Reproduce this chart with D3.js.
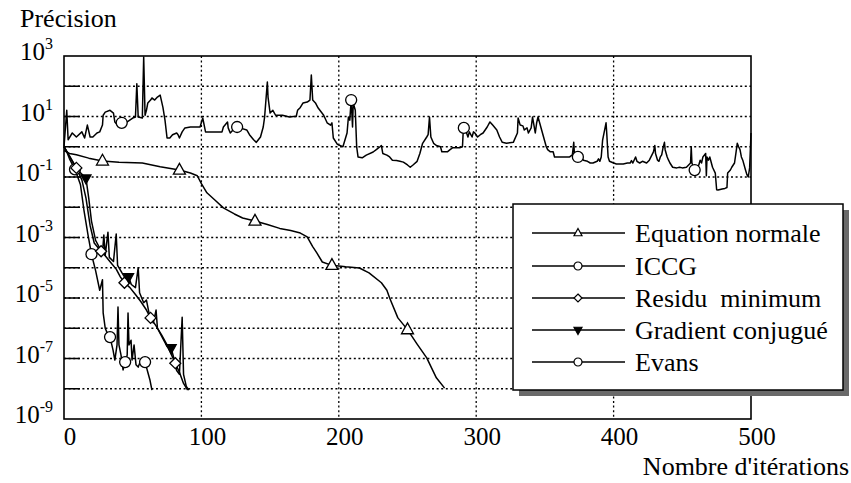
<!DOCTYPE html>
<html lang="fr"><head><meta charset="utf-8">
<script src="https://cdn.jsdelivr.net/npm/d3@7"></script>
</head><body style="margin:0">
<svg id="chart" width="851" height="483"></svg>
<script>
// ---------- data ----------
const xTickValues = [0, 100, 200, 300, 400, 500];
const yTickExponents = [3, 1, -1, -3, -5, -7, -9];
const seriesNames = ["Equation normale", "ICCG", "Residu\u00a0 minimum", "Gradient conjugué", "Evans"];
const xTitle = "Nombre d'itérations";
const yTitle = "Précision";

// [iteration, precision]
const equationNormale = [[0,0.75],[4,0.6],[9,0.54],[18,0.42],[28,0.34],[40,0.31],[57,0.29],[70,0.22],[84,0.17],[92,0.135],[97,0.11],[100,0.06],[104,0.03],[110,0.017],[116,0.0095],[124,0.006],[130,0.0044],[139,0.0035],[148,0.0027],[157,0.002],[165,0.0017],[172,0.0014],[177,0.00105],[181,0.0005],[184,0.00031],[188,0.000155],[195,0.00012],[205,0.000107],[215,0.000098],[222,0.000068],[231,0.000032],[235,0.000018],[237,0.00001],[243,2.2e-6],[250,9e-7],[257,3e-7],[264,1.05e-7],[271,2.3e-8],[277,1.05e-8]];
const iccg = [[0,1.0],[2,0.68],[4,0.4],[8,0.18],[10,0.1],[12,0.055],[14.5,0.0081],[17.5,0.0012],[20,0.00028],[23,0.00008],[26,0.000018],[28,0.00004],[28.5,3.2e-6],[30,1e-6],[31.5,6.9e-7],[33.5,5.1e-7],[35.7,1.9e-7],[37,8.9e-8],[38.6,2.8e-7],[39.3,5e-6],[40,2.8e-7],[41.5,1.3e-7],[43,4.2e-8],[44.5,7.6e-8],[46,1.3e-7],[46.6,3.2e-6],[47.3,2.8e-7],[48.8,4e-7],[49.5,8.9e-8],[51,2.8e-7],[52.4,6.2e-8],[54,5.2e-8],[56,8.9e-8],[57.5,1e-7],[59,7.6e-8],[61,3.5e-8],[62.6,1.9e-8],[64,9e-9]];
const residuMinimum = [[0,1.0],[4,0.5],[9,0.2],[13,0.08],[16,0.02],[19,0.0025],[22,0.00066],[25,0.00045],[27,0.00035],[30,0.00025],[34,0.00015],[38,0.00009],[41,0.00005],[44,0.000032],[48,0.000022],[52,0.000013],[56,0.0000075],[60,0.000004],[63,2.2e-6],[67,1.2e-6],[71,6e-7],[75,2.8e-7],[78,1.4e-7],[81,7e-8],[84,3.5e-8],[87,1.5e-8],[90,9e-9]];
const gradientConjugue = [[0,1.0],[5,0.4],[10,0.17],[16,0.09],[18,0.02],[20,0.0035],[23,0.0008],[26,0.00045],[28,0.00032],[29,0.0012],[30,0.00026],[32,0.0015],[33,0.00022],[36,0.00016],[38,0.0013],[39,0.00012],[42,0.00007],[44,0.00005],[47,0.000049],[49,0.000028],[52,0.000022],[54,0.0001],[55,0.000015],[58,0.000007],[60,0.0000085],[62,0.000003],[65,1.5e-6],[67,4e-6],[68,1e-6],[72,4.5e-7],[75,2.5e-7],[78,2.2e-7],[80,1e-7],[82,4e-8],[84,3e-8],[86,2.3e-6],[87,3e-8],[89,1.2e-8],[91,9e-9]];
const evans = [[0,1.0],[2,16],[3,1.7],[6,2.85],[9,2.1],[13,3.1],[15,1.95],[17,5.2],[19,2.1],[21,2.1],[24,2.85],[26,3.1],[28,5.2],[28.5,11],[30,14],[33.5,16],[36,13],[37,6.6],[39,5.2],[42,6.2],[46,6.6],[50,8.9],[52,9.6],[53,120],[54,9.6],[57,8.9],[58,930],[59,11],[60,16],[61,28],[63,35],[64,41],[66,35],[68,44],[70,51],[72,20],[73.5,7.6],[75,1.95],[77,1.95],[79,2.5],[82,2.85],[83,2.5],[84,1.95],[86,3.1],[88,4.2],[92,4.5],[99,4.5],[101,8.9],[103,3.1],[108,3.1],[115,3.1],[116,4.5],[119,6.6],[119.5,4.2],[121,2.85],[123,3.6],[126,4.5],[128,4.2],[133,3.6],[135,2.5],[138,1.7],[140,1.4],[143,2.1],[145,4.5],[146,9.6],[148,138],[148.5,44],[150,13],[152,16],[154,11],[159,11],[164,9.6],[167,10],[169,10],[170,16],[172,20],[174,28],[177,30],[179,35],[180,236],[181,35],[183,28],[185,19],[189,11],[191.5,6.2],[194,5.2],[195,6.2],[196,1.95],[199,1.2],[203,1.0],[206,2.85],[207,9.6],[208,7.6],[209,35],[210,4.5],[210.5,28],[212,16],[213,1.0],[214,0.46],[217,0.43],[220,0.53],[225,0.67],[228,0.85],[230,1.0],[231,1.1],[232,0.6],[235,0.53],[237,0.46],[239,0.36],[242,0.35],[244.5,0.33],[247,0.31],[250,0.25],[252,0.21],[254,0.25],[257,0.33],[259,0.6],[261,1.3],[264,2.1],[265,2.5],[266,9.6],[267,2.1],[269,1.3],[271,1.1],[274,1.0],[275,0.68],[279,0.68],[281,0.8],[283,0.93],[288,0.93],[290,1.0],[290.5,2.85],[291,4.2],[293,2.85],[294,2.1],[295,3.1],[297,2.1],[298,3.1],[299,2.85],[301,2.1],[303,2.5],[305,2.85],[308,4.5],[310,6.6],[312,5.2],[315,3.6],[317,2.1],[319,1.4],[322,1.3],[327,1.4],[330,2.85],[330.5,8.9],[332,5.2],[334,4.9],[335,3.6],[337,4.2],[338,2.85],[340,4.2],[341,9.6],[343,2.85],[344,6.2],[345,9.6],[351,1.0],[352,0.8],[354,0.68],[356,0.68],[357,0.46],[365,0.46],[368,0.46],[370,0.54],[371,1.4],[371.5,0.54],[373,0.46],[375,0.46],[377,0.43],[378,0.36],[381,0.33],[383,0.29],[385,0.29],[388,0.33],[389,0.4],[390,0.33],[391,0.46],[392,1.66],[394.5,6.2],[395,2.85],[396,0.46],[397,0.33],[400,0.29],[402,0.27],[407,0.27],[410,0.29],[412,0.29],[413,0.35],[414,0.29],[416,0.46],[417,0.33],[419,0.29],[421,0.33],[424,0.29],[426,0.36],[429,0.68],[430,1.1],[430.5,0.6],[432,0.36],[433,0.33],[434,0.46],[435,0.54],[436,0.93],[437,1.4],[437.5,0.8],[439,0.46],[440,0.36],[441,0.29],[443,0.21],[446,0.2],[448,0.21],[450,0.2],[453,0.21],[456,0.29],[456.5,1.0],[457,0.29],[459,0.17],[462,0.25],[463,0.36],[464,0.29],[465,0.46],[467,0.6],[467.5,0.11],[468,0.46],[469,0.36],[470,0.46],[472,0.21],[474,0.135],[475,0.038],[476,0.037],[479,0.04],[481,0.042],[482.5,0.045],[483,0.135],[485,0.17],[486,0.21],[488,0.29],[489,0.6],[490,1.3],[491,1.0],[492,0.8],[493,0.46],[494,0.36],[496,0.17],[497,0.12],[498,0.1],[499,0.2],[500,2.85]];

// iterations at which symbols are drawn on each curve
const equationNormaleMarks = [28, 84, 139, 195, 250];
const iccgMarks = [8, 20, 33.5, 44.5, 59];
const residuMarks = [9, 27, 44, 63, 81];
const gradientMarks = [16, 47, 78];
const evansMarks = [42, 126, 209, 291, 374, 459];

// ---------- drawing ----------
const SERIF = "'Liberation Serif', Tinos, 'Times New Roman', Times, serif";
const svg = d3.select("#chart");
svg.node().style.setProperty("font-family", SERIF, "important");
const W = 851, H = 483;
const plot = {left: 64, right: 751, top: 56, bottom: 419};

const x = d3.scaleLinear().domain([0, 500]).range([plot.left, plot.right]);
const y = d3.scaleLog().domain([1e-9, 1e3]).range([plot.bottom, plot.top]);

function serif(sel) {
  sel.attr("font-family", "Liberation Serif");
  sel.each(function () { this.style.setProperty("font-family", SERIF, "important"); });
  return sel;
}

svg.append("rect").attr("width", W).attr("height", H).attr("fill", "#fff");

// grid
const decades = d3.range(-8, 3).map(e => Math.pow(10, e));
const grid = svg.append("g").attr("stroke", "#000").attr("stroke-width", 1.3).attr("stroke-dasharray", "2,2.6");
grid.selectAll("line.h").data(decades).join("line")
  .attr("x1", plot.left).attr("x2", plot.right)
  .attr("y1", d => y(d)).attr("y2", d => y(d));
grid.selectAll("line.v").data(xTickValues.slice(1, -1)).join("line")
  .attr("y1", plot.top).attr("y2", plot.bottom)
  .attr("x1", d => x(d)).attr("x2", d => x(d));

// inward ticks on left axis
svg.append("g").selectAll("line").data(decades).join("line")
  .attr("x1", plot.left).attr("x2", plot.left + 16)
  .attr("y1", d => y(d)).attr("y2", d => y(d))
  .attr("stroke", "#000").attr("stroke-width", 1.5);

// axis tick labels
serif(svg.append("g").selectAll("text").data(xTickValues).join("text"))
  .attr("x", d => x(d) + 6).attr("y", 445)
  .attr("text-anchor", "middle").attr("font-size", 25)
  .text(d => d);

const yl = serif(svg.append("g").selectAll("text").data(yTickExponents).join("text"))
  .attr("x", 53).attr("y", d => y(Math.pow(10, d)) + 4)
  .attr("text-anchor", "end").attr("font-size", 25);
serif(yl.append("tspan")).text("10");
serif(yl.append("tspan")).attr("dy", -11).attr("font-size", 16).text(d => d);

// titles
serif(svg.append("text")).attr("x", 20).attr("y", 27).attr("font-size", 26).text(yTitle);
serif(svg.append("text")).attr("x", 849).attr("y", 475).attr("text-anchor", "end").attr("font-size", 26).text(xTitle);

// lines
const line = d3.line().x(d => x(d[0])).y(d => y(d[1]));
const allSeries = [equationNormale, iccg, residuMinimum, gradientConjugue, evans];
svg.append("g").selectAll("path").data(allSeries).join("path")
  .attr("d", line).attr("fill", "none").attr("stroke", "#000")
  .attr("stroke-width", 1.5).attr("stroke-linejoin", "round");

// marker shapes
function shapePath(type, s) {
  if (type === "triUp") { const h = s * 0.9; return `M0,${-h*0.62}L${s/2},${h*0.38}L${-s/2},${h*0.38}Z`; }
  if (type === "triDown") { const h = s * 0.9; return `M0,${h*0.62}L${s/2},${-h*0.38}L${-s/2},${-h*0.38}Z`; }
  if (type === "diamond") { const r = s / 2; return `M0,${-r}L${r},0L0,${r}L${-r},0Z`; }
  const r = s / 2; return `M${r},0A${r},${r} 0 1 1 ${-r},0A${r},${r} 0 1 1 ${r},0Z`;
}
function valueAt(data, it) {
  for (let k = 1; k < data.length; k++) {
    if (it <= data[k][0]) {
      const [a0, v0] = data[k-1], [a1, v1] = data[k];
      const t = (it - a0) / (a1 - a0);
      return Math.pow(10, Math.log10(v0) + t * (Math.log10(v1) - Math.log10(v0)));
    }
  }
  return data[data.length - 1][1];
}
const markerSpecs = [
  {data: equationNormale, marks: equationNormaleMarks, type: "triUp", size: 12, fill: "#fff"},
  {data: iccg, marks: iccgMarks, type: "circle", size: 11, fill: "#fff"},
  {data: residuMinimum, marks: residuMarks, type: "diamond", size: 11, fill: "#fff"},
  {data: gradientConjugue, marks: gradientMarks, type: "triDown", size: 10, fill: "#000"},
  {data: evans, marks: evansMarks, type: "circle", size: 11, fill: "#fff"}
];
const mg = svg.append("g");
markerSpecs.forEach(spec => {
  mg.append("g").selectAll("path").data(spec.marks).join("path")
    .attr("transform", d => `translate(${x(d)},${y(valueAt(spec.data, d))})`)
    .attr("d", shapePath(spec.type, spec.size))
    .attr("fill", spec.fill).attr("stroke", "#000").attr("stroke-width", 1.3);
});

// frame
svg.append("rect").attr("x", plot.left).attr("y", plot.top)
  .attr("width", plot.right - plot.left).attr("height", plot.bottom - plot.top)
  .attr("fill", "none").attr("stroke", "#000").attr("stroke-width", 1.6);

// legend
const lg = {x: 513, y: 204, w: 330, h: 186};
svg.append("rect").attr("x", lg.x + 6).attr("y", lg.y + 6).attr("width", lg.w).attr("height", lg.h).attr("fill", "#6a6a6a");
svg.append("rect").attr("x", lg.x).attr("y", lg.y).attr("width", lg.w).attr("height", lg.h)
  .attr("fill", "#fff").attr("stroke", "#000").attr("stroke-width", 1.5);
const rowY = [233, 266, 298, 330, 362];
const legendSymbols = ["triUp", "circle", "diamond", "triDown", "circle"];
const legendFill = ["#fff", "#fff", "#fff", "#000", "#fff"];
const items = svg.append("g").selectAll("g").data(seriesNames).join("g")
  .attr("transform", (d, i) => `translate(0,${rowY[i]})`);
items.append("line").attr("x1", 532).attr("x2", 625).attr("stroke", "#000").attr("stroke-width", 1.5);
items.append("path").attr("transform", "translate(578,0)")
  .attr("d", (d, i) => shapePath(legendSymbols[i], 8))
  .attr("fill", (d, i) => legendFill[i]).attr("stroke", "#000").attr("stroke-width", 1.2);
serif(items.append("text")).attr("x", 635).attr("y", 9).attr("font-size", 26)
  .text(d => d);
</script>
</body></html>
